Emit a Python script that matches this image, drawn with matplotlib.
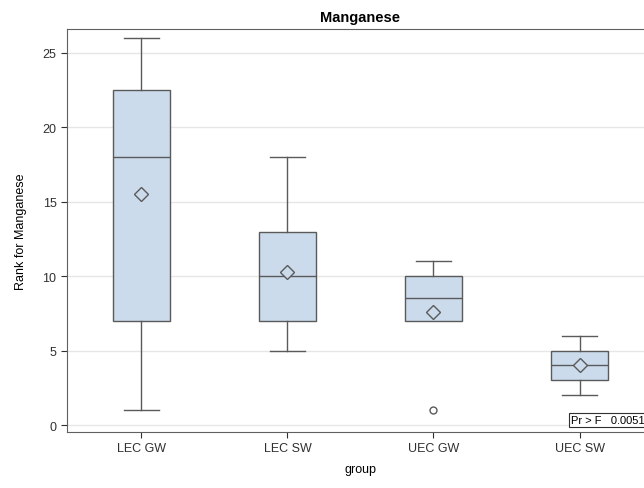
import matplotlib.pyplot as plt

plt.rcParams['font.family'] = ['Liberation Sans', 'DejaVu Sans']

# rank summaries per group
groups = ['LEC GW', 'LEC SW', 'UEC GW', 'UEC SW']
whislo = [1, 5, 7, 2]
q1 = [7, 7, 7, 3]
med = [18, 10, 8.5, 4]
q3 = [22.5, 13, 10, 5]
whishi = [26, 18, 11, 6]
means = [15.5, 10.3, 7.6, 4.0]
outliers = [[], [], [1], []]
p_value = '0.0051'

stats = []
for i in range(len(groups)):
    stats.append({'label': groups[i], 'whislo': whislo[i], 'q1': q1[i], 'med': med[i],
                  'q3': q3[i], 'whishi': whishi[i], 'mean': means[i], 'fliers': outliers[i]})

fig = plt.figure(figsize=(6.44, 4.89), dpi=100)
ax = fig.add_axes([0.104, 0.1145, 0.9115, 0.824])

edge = '#5a5a5a'
parts = ax.bxp(stats, positions=range(len(groups)), widths=0.39, showmeans=True, patch_artist=True,
               boxprops=dict(facecolor='#cbdbec', edgecolor=edge, linewidth=1),
               medianprops=dict(color=edge, linewidth=1),
               whiskerprops=dict(color=edge, linewidth=1),
               capprops=dict(color=edge, linewidth=1),
               capwidths=0.24,
               meanprops=dict(marker='D', markerfacecolor='#cbdbec', markeredgecolor=edge, markersize=7),
               flierprops=dict(marker='o', markerfacecolor='white', markeredgecolor=edge, markersize=5))

# no cap where the whisker has zero length
for i in range(len(groups)):
    if whislo[i] == q1[i]:
        parts['caps'][2 * i].set_visible(False)
    if whishi[i] == q3[i]:
        parts['caps'][2 * i + 1].set_visible(False)

ax.set_xlim(-0.51, 3.51)
ax.set_ylim(-0.47, 26.6)
ax.set_yticks([0, 5, 10, 15, 20, 25])
ax.yaxis.grid(True, color='#e6e6e6', linewidth=1)
ax.set_axisbelow(True)
for s in ax.spines.values():
    s.set_color('#606060')
ax.tick_params(colors='#303030', labelsize=9, length=4)

ax.set_title('Manganese', fontsize=10.5, fontweight='bold', pad=6)
ax.set_xlabel('group', fontsize=9, labelpad=6)
ax.set_ylabel('Rank for Manganese', fontsize=9, labelpad=11)

ax.text(2.94, 0.35, 'Pr > F   ' + p_value, fontsize=8, ha='left', va='center',
        bbox=dict(facecolor='white', edgecolor='#303030', boxstyle='square,pad=0.2', linewidth=0.8))

fig.savefig('out.png', dpi=100)
